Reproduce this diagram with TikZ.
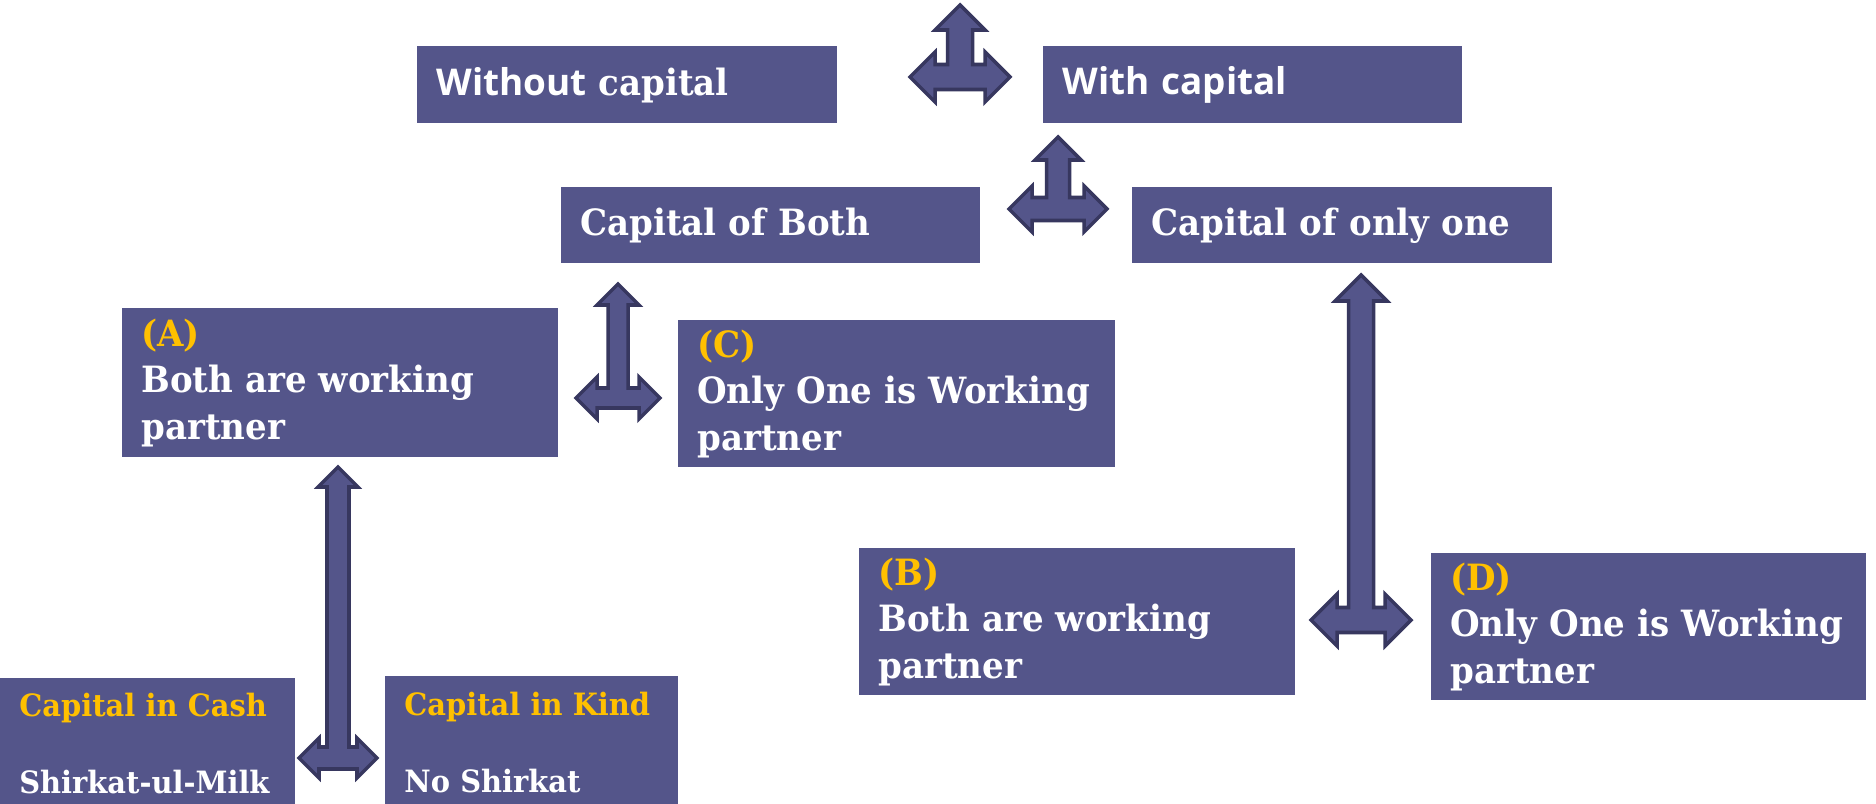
\documentclass[tikz,border=0pt]{standalone}
\usepackage{fontspec}
\setmainfont[FakeStretch=0.94]{DejaVu Serif}
\newfontfamily\headsans{Open Sans}

\definecolor{boxblue}{RGB}{84,85,138}
\definecolor{arrowline}{RGB}{55,55,95}
\definecolor{gold}{RGB}{255,192,0}

\begin{document}
\begin{tikzpicture}[x=0.02cm,y=-0.02cm,
    box/.style={fill=boxblue,text=white,anchor=north west,align=left,
      inner xsep=0.38cm,inner ysep=0pt,font=\fontsize{20.6}{26.4}\selectfont\bfseries},
    small box/.style={box,font=\fontsize{17.5}{22}\selectfont\bfseries},
    pics/triarrow/.style n args={4}{code={
      % #1 tip height, #2 half span, #3 stem half width, #4 head half width
      \filldraw[fill=boxblue,draw=arrowline,line width=2pt,line join=miter]
        (0,-#1) -- (#4,-#1+#4) -- (#3,-#1+#4) -- (#3,-#3) -- (#2-#4,-#3)
        -- (#2-#4,-#4) -- (#2,0) -- (#2-#4,#4) -- (#2-#4,#3) -- (-#2+#4,#3)
        -- (-#2+#4,#4) -- (-#2,0) -- (-#2+#4,-#4) -- (-#2+#4,-#3) -- (-#3,-#3)
        -- (-#3,-#1+#4) -- (-#4,-#1+#4) -- cycle;
    }}]
  \fill[white] (0,0) rectangle (1876,804);
  \useasboundingbox (0,0) rectangle (1876,804);

  % Boxes
  \node[box, minimum height=1.54cm, text width=7.64cm] (without) at (417,46) {{\headsans\fontsize{21}{25}\selectfont Without} capital};
  \node[box, minimum height=1.54cm, text width=7.62cm] (with) at (1043,46) {\headsans\fontsize{21}{25}\selectfont With capital};
  \node[box, minimum height=1.52cm, text width=7.62cm] (both) at (561,187) {Capital of Both};
  \node[box, minimum height=1.52cm, text width=7.64cm] (onlyone) at (1132,187) {Capital of only one};
  \node[box, minimum height=2.98cm, text width=7.96cm] (A) at (122,308) {\textcolor{gold}{(A)}\\Both are working\\partner};
  \node[box, minimum height=2.94cm, text width=7.98cm] (C) at (678,320) {\textcolor{gold}{(C)}\\Only One is Working\\partner};
  \node[box, minimum height=2.94cm, text width=7.96cm] (B) at (859,548) {\textcolor{gold}{(B)}\\Both are working\\partner};
  \node[box, minimum height=2.94cm, text width=7.94cm] (D) at (1431,553) {\textcolor{gold}{(D)}\\Only One is Working\\partner};
  \node[small box, minimum height=2.60cm, text width=5.14cm] (cash) at (0,678) {\textcolor{gold}{Capital in Cash}\\[22pt]Shirkat-ul-Milk};
  \node[small box, minimum height=2.64cm, text width=5.10cm] (kind) at (385,676) {\textcolor{gold}{Capital in Kind}\\[22pt]No Shirkat};

  % Arrows
  \coordinate (hub1) at (960,77);
  \coordinate (hub2) at (1058,209);
  \coordinate (hub3) at (618,398);
  \coordinate (hub4) at (338,758);
  \coordinate (hub5) at (1361,620);
  \pic at (hub1) {triarrow={72}{50}{12.5}{25}};
  \pic at (hub2) {triarrow={72}{49}{11.5}{23}};
  \pic at (hub3) {triarrow={114}{42}{10}{21}};
  \pic at (hub4) {triarrow={291}{39}{11}{20}};
  \pic at (hub5) {triarrow={345}{50}{12.5}{26}};

\end{tikzpicture}
\end{document}
